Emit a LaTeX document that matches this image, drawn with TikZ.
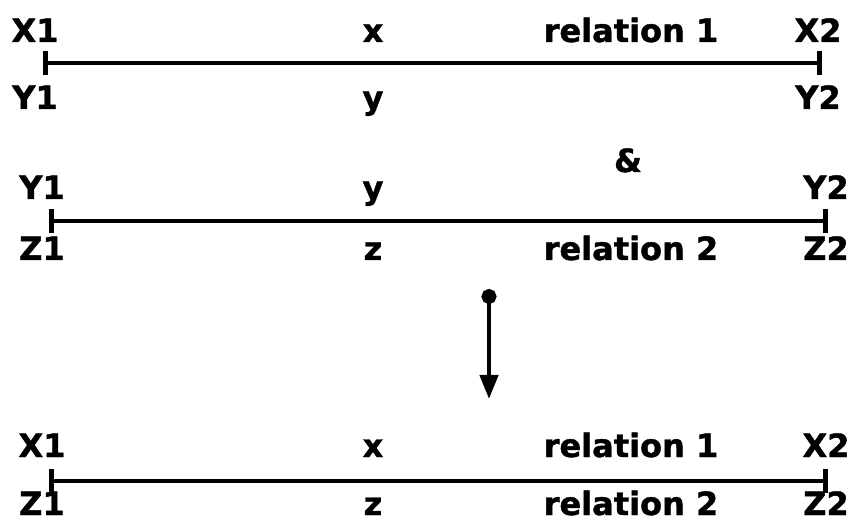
\documentclass[tikz,border=0pt]{standalone}
\usepackage{fontspec}
\newfontface\lblfont{DejaVu Sans Bold}[FakeBold=1.3]
\usetikzlibrary{arrows.meta}
\begin{document}
\begin{tikzpicture}[x=1pt,y=-1pt,
  lbl/.style={font=\fontsize{32}{36}\lblfont, anchor=base, inner sep=0pt},
  rel/.style={line width=4.5pt, {Bar[width=24pt,line width=5pt]}-{Bar[width=24pt,line width=5pt]}},
  flow/.style={line width=4.5pt, {Circle[length=15pt,width=15pt]}-{Triangle[length=24pt,width=18pt]}}]
\useasboundingbox (0,0) rectangle (852,521);
% row 1
\node[lbl] (x1a) at (35,42) {X1};
\node[lbl] (xa) at (373,42) {x};
\node[lbl] (r1a) at (631,42) {relation 1};
\node[lbl] (x2a) at (818,42) {X2};
\node[lbl] (y1a) at (35,109) {Y1};
\node[lbl] (ya) at (373,109) {y};
\node[lbl] (y2a) at (818,109) {Y2};
\coordinate (l1s) at (43,63);
\coordinate (l1e) at (822,63);
\draw[rel] (l1s) -- (l1e);
% and
\node[lbl] (amp) at (628,172) {\&};
% row 2
\node[lbl] (y1b) at (42,199) {Y1};
\node[lbl] (yb) at (373,199) {y};
\node[lbl] (y2b) at (826,199) {Y2};
\node[lbl] (z1b) at (42,260) {Z1};
\node[lbl] (zb) at (373,260) {z};
\node[lbl] (r2b) at (631,260) {relation 2};
\node[lbl] (z2b) at (826,260) {Z2};
\coordinate (l2s) at (49,221);
\coordinate (l2e) at (828,221);
\draw[rel] (l2s) -- (l2e);
% arrow
\coordinate (as) at (489,289);
\coordinate (ae) at (489,399);
\draw[flow] (as) -- (ae);
% row 3
\node[lbl] (x1c) at (42,457) {X1};
\node[lbl] (xc) at (373,457) {x};
\node[lbl] (r1c) at (631,457) {relation 1};
\node[lbl] (x2c) at (826,457) {X2};
\node[lbl] (z1c) at (42,515) {Z1};
\node[lbl] (zc) at (373,515) {z};
\node[lbl] (r2c) at (631,515) {relation 2};
\node[lbl] (z2c) at (826,515) {Z2};
\coordinate (l3s) at (49,481);
\coordinate (l3e) at (828,481);
\draw[rel] (l3s) -- (l3e);
\end{tikzpicture}
\end{document}
